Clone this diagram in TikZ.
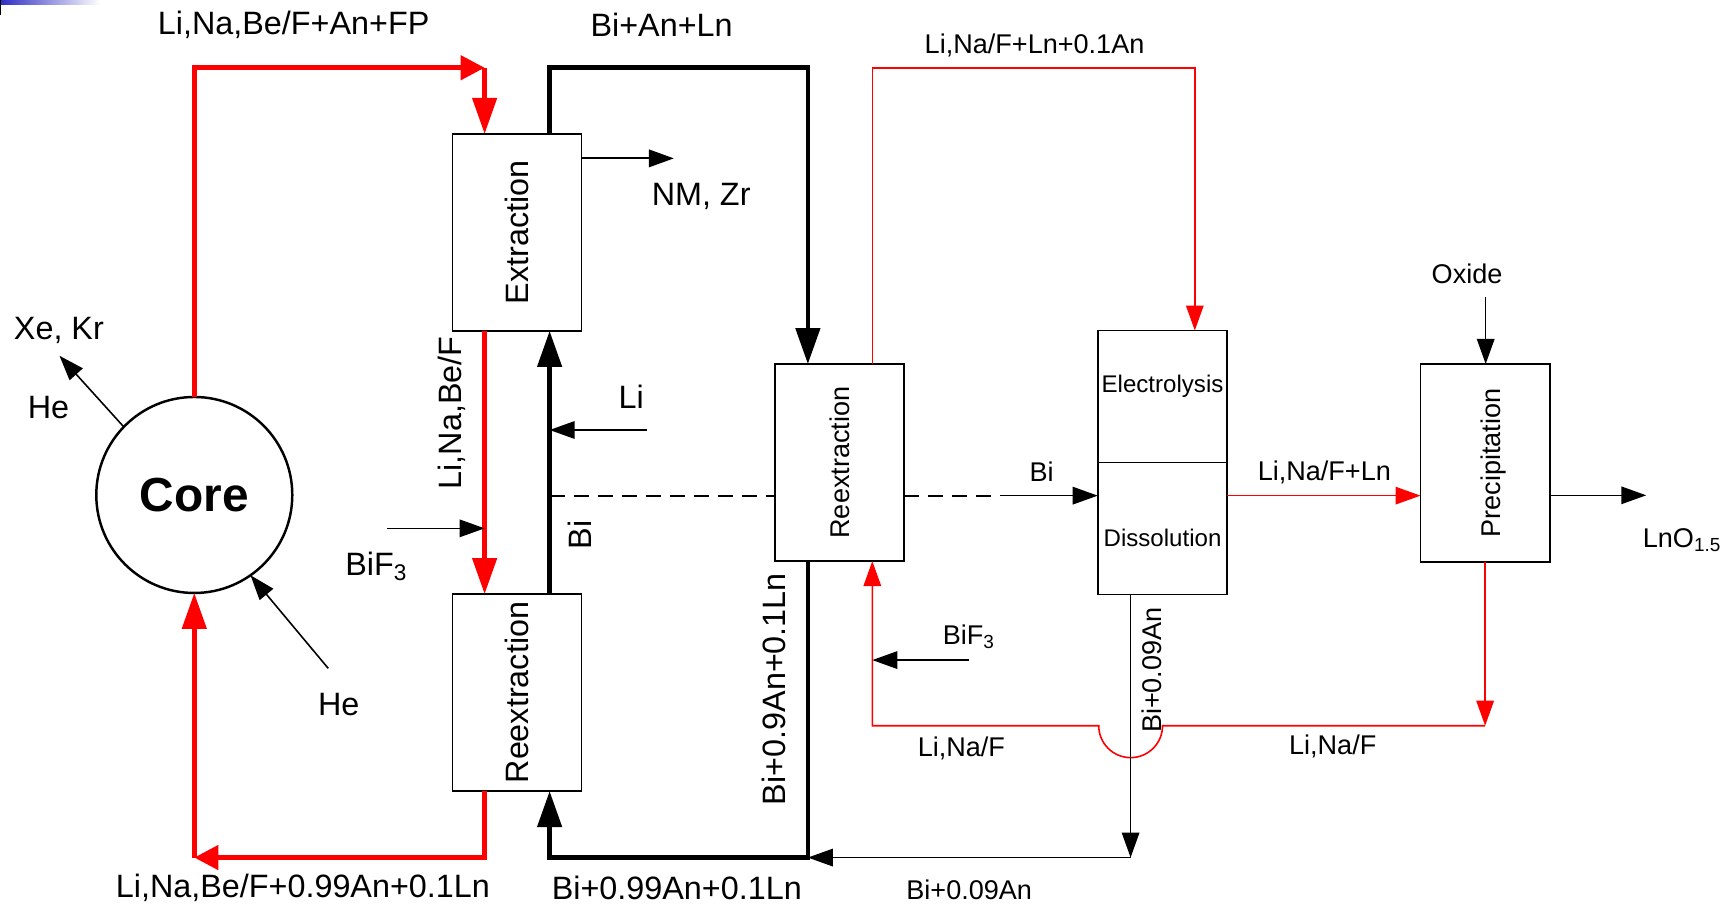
\documentclass[tikz,border=0pt]{standalone}
\usepackage{fontspec}
\setmainfont{Liberation Sans}
\usetikzlibrary{arrows.meta}
\definecolor{slideblue}{RGB}{45,45,195}

\begin{document}
\begin{tikzpicture}[x=0.11014mm, y=-0.11014mm,
  font=\fontsize{9.2}{11}\selectfont,
  proc/.style={draw, line width=0.5pt, inner sep=0pt, outer sep=0pt, minimum width=12.9mm, minimum height=19.7mm},
  cell/.style={draw, line width=0.5pt, inner sep=0pt, outer sep=0pt, minimum width=12.96mm, minimum height=13.2mm},
  minor/.style={font=\fontsize{7.7}{9}\selectfont},
  tiny/.style={font=\fontsize{6.85}{8}\selectfont},
  salt/.style={draw=red},
  main/.style={line width=1.3pt},
  bigtip/.style={-{Triangle[length=3.6mm,width=2.4mm]}},
  cornertip/.style={-{Triangle[length=2.4mm,width=2.4mm]}},
  flow/.style={line width=0.45pt, -{Triangle[length=2.5mm,width=1.75mm]}},
  dash line/.style={line width=0.55pt, dash pattern=on 1.5mm off 0.9mm}]
\useasboundingbox (0,0) rectangle (1568,822);
\shade[left color=slideblue, right color=white] (0,0) rectangle (91,4.5);
\fill (0,0) rectangle (1,13.6);

\node[circle, draw, line width=0.7pt, inner sep=0pt, outer sep=0pt, minimum size=19.6mm,
  font=\fontsize{13.6}{16}\selectfont\bfseries] (core) at (176.4,449.4) {Core};
\node[proc] (extr)  at (469.5,211)   {\rotatebox{90}{Extraction}\hspace{2mm}};
\node[proc] (reex1) at (469.5,628.8) {\rotatebox{90}{Reextraction}};
\node[proc, minor] (reex2) at (762.4,420) {\rotatebox{90}{Reextraction}};
\node[cell, label={[tiny, yshift=1mm]center:Electrolysis}] (elec) at (1055.5,360) {};
\node[cell, anchor=north, label={[tiny, yshift=-0.95mm]center:Dissolution}] (diss) at (elec.south) {};
\node[proc, minor, minimum width=12.92mm, minimum height=19.77mm] (prec) at (1348.4,420.2) {\hspace{1.6mm}\rotatebox{90}{Precipitation}};

\coordinate (redTop)  at (440,61.5);
\coordinate (blkUp)   at (499,61.5);
\coordinate (blkTop)  at (733.5,61.5);
\coordinate (feedTop) at (792,61.5);
\coordinate (feedEnd) at (1084.8,61.5);
\coordinate (redBot)  at (440,778.6);
\coordinate (blkBot)  at (733.5,778.6);
\coordinate (binBot)  at (1026.5,778.6);
\coordinate (saltBot) at (792,658.9);
\coordinate (hop)     at (1055.5,658.9);
\coordinate (nm)      at (611.8,143.8);
\coordinate (li)      at (587.4,390.4);
\coordinate (bif)     at (351.6,479.7);
\coordinate (bif2)    at (880,599.3);
\coordinate (bi)      at (908,450);
\coordinate (ox)      at (1348.9,270);
\coordinate (lno)     at (1494.7,449.7);
\coordinate (xe)      at (54,323);
\coordinate (he)      at (298,606.8);

\draw[salt, main, cornertip] (core.north) |- (redTop);
\draw[salt, main, bigtip] (redTop) -- (redTop |- extr.north);
\draw[main, bigtip] (blkUp |- extr.north) -- (blkUp) -- (blkTop) -- (blkTop |- reex2.north);
\draw[flow, line width=0.6pt] (nm -| extr.east) -- (nm);
\draw[salt, main, bigtip] (redTop |- extr.south) -- (redTop |- reex1.north);
\draw[flow] (bif) -- (bif -| redTop);
\draw[main, bigtip] (blkUp |- reex1.north) -- (blkUp |- extr.south);
\draw[flow] (li) -- (li -| blkUp);
\draw[dash line] (blkUp |- bi) -- (bi -| reex2.west);
\draw[dash line] (bi -| reex2.east) -- (bi);
\draw[flow] (bi) -- (bi -| diss.west);
\draw[main, bigtip] (blkTop |- reex2.south) -- (blkBot) -- (blkUp |- blkBot) -- (blkUp |- reex1.south);
\draw[salt, main, cornertip] (redTop |- reex1.south) -- (redBot) -- (core.south |- redBot);
\draw[salt, main, bigtip] (core.south |- redBot) -- (core.south);
\draw[flow] (core.136) -- (xe);
\draw[flow] (he) -- (core.-55);
\draw[salt, flow] (feedTop |- reex2.north) -- (feedTop) -- (feedEnd) -- (feedEnd |- elec.north);
\draw[salt, flow] (bi -| diss.east) -- (bi -| prec.west);
\draw[flow] (ox) -- (ox |- prec.north);
\draw[flow] (lno -| prec.east) -- (lno);
\draw[salt, flow] (prec.south) -- (prec.south |- saltBot);
\draw[salt, flow] (prec.south |- saltBot) -- (hop) arc[start angle=0, end angle=-180, radius=3.19mm]
  -- (saltBot) -- (saltBot |- reex2.south);
\draw[flow] (binBot |- diss.south) -- (binBot);
\draw[flow] (binBot) -- (blkBot);
\draw[flow] (bif2) -- (bif2 -| saltBot);

\node at (266.6,22.7) {Li,Na,Be/F+An+FP};
\node at (600.7,22.7) {Bi+An+Ln};
\node at (636.6,178.6) {NM, Zr};
\node[minor] at (939.3,40.9) {Li,Na/F+Ln+0.1An};
\node at (53.5,300) {Xe, Kr};
\node at (44,370) {He};
\node[rotate=90] at (410,375) {Li,Na,Be/F};
\node at (573,360) {Li};
\node at (342,514.5) {BiF\textsubscript{3}};
\node[rotate=90] at (526.4,485.7) {Bi};
\node at (307.5,640) {He};
\node at (275,806.5) {Li,Na,Be/F+0.99An+0.1Ln};
\node at (614.5,806.5) {Bi+0.99An+0.1Ln};
\node[rotate=90] at (702.3,625.6) {Bi+0.9An+0.1Ln};
\node[minor] at (945.7,428.3) {Bi};
\node[minor] at (880,578) {BiF\textsubscript{3}};
\node[minor] at (872.9,679.5) {Li,Na/F};
\node[minor] at (880,808.1) {Bi+0.09An};
\node[minor, rotate=90] at (1046,608.4) {Bi+0.09An};
\node[minor] at (1202.4,428.9) {Li,Na/F+Ln};
\node[minor] at (1332,248.2) {Oxide};
\node[minor] at (1527.6,490.3) {LnO\textsubscript{1.5}};
\node[minor] at (1210,678) {Li,Na/F};
\end{tikzpicture}
\end{document}
